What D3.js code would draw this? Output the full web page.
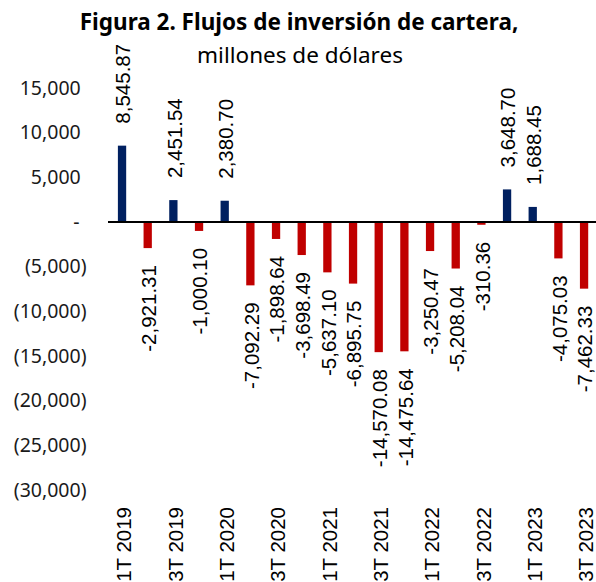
<!DOCTYPE html>
<html>
<head>
<meta charset="utf-8">
<script src="https://cdn.jsdelivr.net/npm/d3@7"></script>
<style>
  body { margin: 0; background: #fff; }
  svg { display: block; }
</style>
</head>
<body>
<div class="chart"></div>
<script>
// quarters and flows (millones de dólares)
var quarters = ["1T 2019", "2T 2019", "3T 2019", "4T 2019", "1T 2020", "2T 2020", "3T 2020", "4T 2020",
  "1T 2021", "2T 2021", "3T 2021", "4T 2021", "1T 2022", "2T 2022", "3T 2022", "4T 2022",
  "1T 2023", "2T 2023", "3T 2023"];
var flows = [8545.87, -2921.31, 2451.54, -1000.10, 2380.70, -7092.29, -1898.64, -3698.49,
  -5637.10, -6895.75, -14570.08, -14475.64, -3250.47, -5208.04, -310.36, 3648.70,
  1688.45, -4075.03, -7462.33];
var yTicks = [15000, 10000, 5000, 0, -5000, -10000, -15000, -20000, -25000, -30000];

var width = 596, height = 582;

var svg = d3.select(".chart").append("svg")
    .attr("width", width)
    .attr("height", height);

var loc = d3.formatLocale({decimal: ".", thousands: ",", grouping: [3], currency: ["$", ""], minus: "-"});
var fmtLabel = loc.format(",.2f"),
    fmtTick = loc.format(",.0f");

var x = d3.scaleBand()
    .domain(quarters)
    .range([109.2, 596.9])
    .paddingInner(0.677)
    .paddingOuter(0.3385);

var y = d3.scaleLinear()
    .domain([-30000, 15000])
    .range([490, 88]);

// title
svg.append("text")
    .attr("x", 299).attr("y", 30)
    .attr("text-anchor", "middle")
    .style("font-family", "'Noto Sans', sans-serif")
    .style("font-weight", "bold")
    .style("font-size", "22.5px")
    .text("Figura 2. Flujos de inversión de cartera,");

svg.append("text")
    .attr("x", 300).attr("y", 63)
    .attr("text-anchor", "middle")
    .style("font-family", "'Noto Sans', sans-serif")
    .style("font-size", "22.5px")
    .text("millones de dólares");

// y tick labels, accounting style
svg.append("g")
    .selectAll("text")
    .data(yTicks)
    .enter().append("text")
    .attr("x", function(d) { return d < 0 ? 86.5 : (d == 0 ? 79.5 : 80.7); })
    .attr("y", function(d) { return y(d); })
    .attr("dy", "0.35em")
    .attr("text-anchor", "end")
    .style("font-family", "'Noto Sans', sans-serif")
    .style("font-size", "19.5px")
    .style("fill", "#1a1a1a")
    .text(function(d) {
        if (d == 0) return "-";
        return d < 0 ? "(" + fmtTick(-d) + ")" : fmtTick(d);
    });

// bars
svg.append("g")
    .selectAll("rect")
    .data(flows)
    .enter().append("rect")
    .attr("x", function(d, i) { return x(quarters[i]); })
    .attr("width", x.bandwidth())
    .attr("y", function(d) { return y(Math.max(0, d)); })
    .attr("height", function(d) { return Math.abs(y(d) - y(0)); })
    .attr("fill", function(d) { return d >= 0 ? "#002060" : "#C00000"; });

// zero line
svg.append("line")
    .attr("x1", 108).attr("x2", width)
    .attr("y1", y(0)).attr("y2", y(0))
    .attr("stroke", "#000")
    .attr("stroke-width", 2);

// data labels, rotated
svg.append("g")
    .selectAll("text")
    .data(flows)
    .enter().append("text")
    .attr("transform", function(d, i) {
        var cx = x(quarters[i]) + x.bandwidth() / 2 + 1;
        var cy = d >= 0 ? y(d) - 22 : y(d) + 17;
        return "translate(" + cx + "," + cy + ") rotate(-90)";
    })
    .attr("dy", "0.35em")
    .attr("text-anchor", function(d) { return d >= 0 ? "start" : "end"; })
    .style("font-family", "'Liberation Sans', Arial, sans-serif")
    .style("font-size", "20.5px")
    .style("fill", "#000")
    .text(function(d) { return fmtLabel(d); });

// category labels, every other quarter
svg.append("g")
    .selectAll("text")
    .data(quarters.filter(function(d, i) { return i % 2 == 0; }))
    .enter().append("text")
    .attr("transform", function(d) {
        return "translate(" + (x(d) + x.bandwidth() / 2 + 2) + ",507) rotate(-90)";
    })
    .attr("dy", "0.35em")
    .attr("text-anchor", "end")
    .style("font-family", "'Liberation Sans', Arial, sans-serif")
    .style("font-size", "20.5px")
    .style("fill", "#000")
    .text(function(d) { return d; });
</script>
</body>
</html>
